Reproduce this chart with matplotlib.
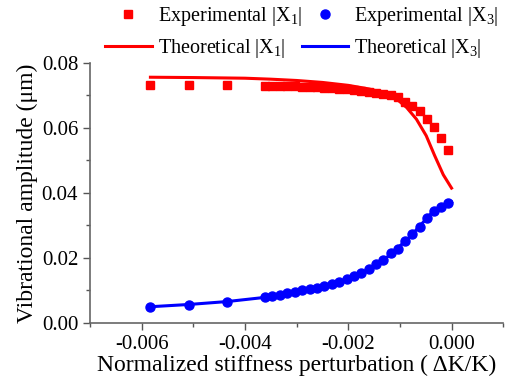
import numpy as np
import matplotlib
matplotlib.use("Agg")
import matplotlib.pyplot as plt

plt.rcParams['font.family'] = ['Liberation Serif', 'DejaVu Serif']
plt.rcParams['mathtext.fontset'] = 'custom'
plt.rcParams['mathtext.rm'] = 'Liberation Serif'
plt.rcParams['mathtext.it'] = 'Liberation Serif:italic'

# measured points (shared x for both modes)
dk = [-0.00583, -0.00508, -0.00434, -0.00361, -0.00347, -0.00333, -0.00318,
      -0.00304, -0.00290, -0.00275, -0.00261, -0.00246, -0.00232, -0.00218,
      -0.00203, -0.00189, -0.00175, -0.00160, -0.00146, -0.00132, -0.00118,
      -0.00104, -0.00090, -0.00076, -0.00062, -0.00048, -0.00034, -0.00021,
      -0.00007]
exp_x1 = [0.0733, 0.0733, 0.0733, 0.0730, 0.0730, 0.0729, 0.0728,
          0.0728, 0.0727, 0.0726, 0.0725, 0.0724, 0.0723, 0.0721,
          0.0719, 0.0717, 0.0715, 0.0712, 0.0709, 0.0705, 0.0701,
          0.0694, 0.0681, 0.0669, 0.0651, 0.0629, 0.0603, 0.0569,
          0.0532]
exp_x3 = [0.0049, 0.0056, 0.0065, 0.0079, 0.0083, 0.0087, 0.0091,
          0.0096, 0.0100, 0.0104, 0.0109, 0.0114, 0.0119, 0.0127,
          0.0135, 0.0143, 0.0154, 0.0166, 0.0180, 0.0193, 0.0214,
          0.0229, 0.0252, 0.0273, 0.0296, 0.0323, 0.0346, 0.0358,
          0.0370]

# theory curves
th1_x = [-0.00583, -0.005, -0.004, -0.0035, -0.003, -0.0025, -0.002, -0.0016,
         -0.0013, -0.0011, -0.00087, -0.00068, -0.00049, -0.00033, -0.00016, 0.0]
th1_y = [0.0756, 0.0755, 0.0753, 0.0750, 0.0746, 0.0740, 0.0731, 0.0720,
         0.0708, 0.0694, 0.0663, 0.0627, 0.0576, 0.0516, 0.0456, 0.0415]
th3_x = [-0.00583, -0.00508, -0.00434, -0.0036, -0.003, -0.0025, -0.002, -0.0016,
         -0.0012, -0.0008, -0.0004, -0.0002, 0.0]
th3_y = [0.0050, 0.0057, 0.0066, 0.0079, 0.0096, 0.0112, 0.0135, 0.0165,
         0.0208, 0.0266, 0.0336, 0.0358, 0.0372]

fig = plt.figure(figsize=(5.07, 3.83), dpi=100)
ax = fig.add_axes([0.1775, 0.1567, 0.815, 0.679])

l1, = ax.plot(th1_x, th1_y, '-', color='#ff0000', lw=2.2)
l3, = ax.plot(th3_x, th3_y, '-', color='#0000ff', lw=2.2)
s1, = ax.plot(dk, exp_x1, 's', color='#ff0000', ms=6, ls='none')
s3, = ax.plot(dk, exp_x3, 'o', color='#0000ff', ms=6.5, ls='none')

ax.set_xlim(-0.007, 0.001)
ax.set_ylim(0, 0.08)
ax.set_xticks([-0.006, -0.004, -0.002, 0.0])
ax.set_xticks(np.arange(-0.007, 0.0011, 0.001), minor=True)
ax.set_yticks([0.0, 0.02, 0.04, 0.06, 0.08])
ax.set_yticks(np.arange(0, 0.081, 0.01), minor=True)
ax.set_xticklabels(['-0.006', '-0.004', '-0.002', '0.000'])
ax.set_yticklabels(['0.00', '0.02', '0.04', '0.06', '0.08'])
ax.tick_params(which='major', direction='out', length=5, width=1, labelsize=15, color='#555555')
ax.tick_params(which='minor', direction='out', length=3, width=1, color='#555555')

for side in ['top', 'right']:
    ax.spines[side].set_visible(False)
for side in ['left', 'bottom']:
    ax.spines[side].set_color('#666666')
    ax.spines[side].set_linewidth(1.2)

ax.set_xlabel('Normalized stiffness perturbation ( \u0394K/K)', fontsize=17, labelpad=1)
ax.set_ylabel('Vibrational amplitude (\u03bcm)', fontsize=17, labelpad=3)

fig.legend([s1, l1, s3, l3],
           [r'Experimental |X$_1$|', r'Theoretical |X$_1$|',
            r'Experimental |X$_3$|', r'Theoretical |X$_3$|'],
           ncol=2, frameon=False, fontsize=14.5, loc='upper left',
           bbox_to_anchor=(0.172, 1.035), handlelength=2.3, columnspacing=0.0,
           handletextpad=0.3, labelspacing=0.45)

fig.savefig('out.png', dpi=100)
